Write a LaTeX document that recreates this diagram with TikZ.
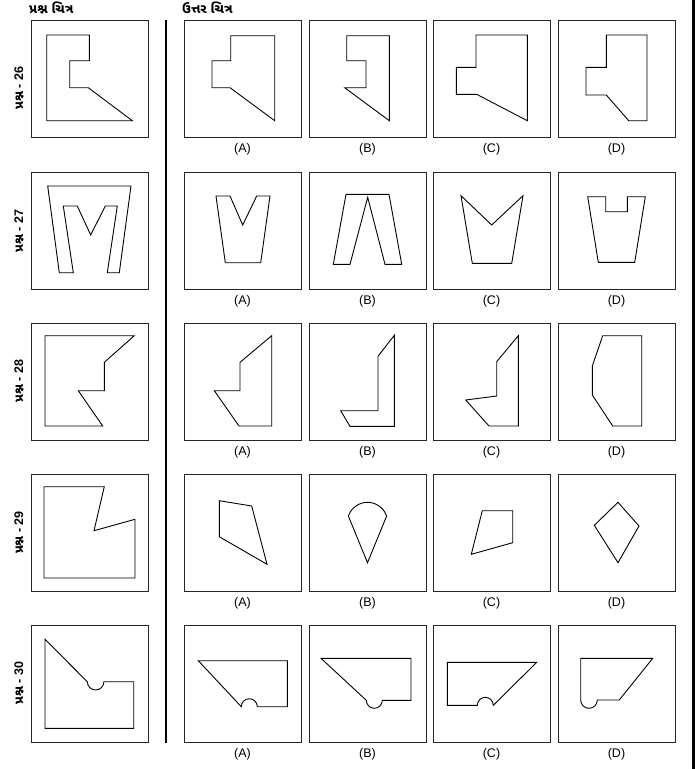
\documentclass[tikz,border=0pt]{standalone}
\usepackage{fontspec}
\setmainfont{Liberation Sans}
\newfontfamily\guj[Script=Gujarati]{Noto Sans Gujarati UI}
\begin{document}
\begin{tikzpicture}[x=1pt,y=-1pt,
  framebox/.style={draw=black!85,line width=1pt},
  fig/.style={draw=black,line width=0.9pt,line join=miter},
  optlabel/.style={font=\fontsize{12.5}{12.5}\selectfont,inner sep=0pt},
  rowlabel/.style={rotate=90,font=\bfseries\fontsize{12.5}{12.5}\selectfont,inner sep=0pt},
  headlabel/.style={anchor=west,font=\guj\bfseries\fontsize{13}{13}\selectfont,inner sep=0pt}]
\useasboundingbox (0,0) rectangle (696,769);
% headers
\node[headlabel] (h1) at (29,8) {પ્રશ્ન ચિત્ર};
\node[headlabel] (h2) at (182,8) {ઉત્તર ચિત્ર};
% divider and right border
\draw[line width=2pt] (166,20) -- (166,743);
\draw[line width=2.6pt] (693.5,0) -- (693.5,769);
% boxes and labels
\foreach \r/\yy in {1/20,2/172,3/323,4/474,5/625}{
  \draw[framebox] (31,\yy) rectangle ++(117,117);
  \foreach \c/\xx/\t in {A/184/(A),B/309/(B),C/433/(C),D/558/(D)}{
    \draw[framebox] (\xx,\yy) rectangle ++(117,117);
    \node[optlabel] (l\r\c) at (\xx+58.5,\yy+129) {\t};
  }
}
% row labels
\node[rowlabel] (q26) at (19,88) {{\guj પ્રશ્ન} - 26};
\node[rowlabel] (q27) at (19,231) {{\guj પ્રશ્ન} - 27};
\node[rowlabel] (q28) at (19,381) {{\guj પ્રશ્ન} - 28};
\node[rowlabel] (q29) at (19,532.5) {{\guj પ્રશ્ન} - 29};
\node[rowlabel] (q30) at (19,683) {{\guj પ્રશ્ન} - 30};
% ---------- Row 26 ----------
\begin{scope}[shift={(31,20)}]
\draw[fig] (15.7,15) -- (58.3,15) -- (58.3,40.7) -- (38.7,40.7) -- (38.7,67.7) -- (57.3,67.7) -- (101.3,100.7) -- (15.7,100.7) -- cycle;
\end{scope}
\begin{scope}[shift={(184,20)}]
\draw[fig] (46.7,15.7) -- (90.7,15.7) -- (90.7,100.7) -- (46,67.7) -- (28,67.7) -- (28,40.7) -- (46.7,40.7) -- cycle;
\end{scope}
\begin{scope}[shift={(309,20)}]
\draw[fig] (37.7,15.7) -- (80.3,15.7) -- (80.3,100.7) -- (35.7,67.7) -- (57,67.7) -- (57,40.7) -- (37.7,40.7) -- cycle;
\end{scope}
\begin{scope}[shift={(433,20)}]
\draw[fig] (43,15) -- (94.3,15) -- (94.3,100.7) -- (43.7,74.3) -- (23.3,74.3) -- (23.3,47.3) -- (43,47.3) -- cycle;
\end{scope}
\begin{scope}[shift={(558,20)}]
\draw[fig] (48.3,15) -- (89,15) -- (89,100.7) -- (70.7,100.7) -- (48.3,75) -- (28,75) -- (28,47.3) -- (48.3,47.3) -- cycle;
\end{scope}
% ---------- Row 27 ----------
\begin{scope}[shift={(31,172)}]
\draw[fig] (16.7,14) -- (100,14) -- (88.3,100.7) -- (76.3,100.7) -- (86.3,34) -- (74.3,34) -- (59.7,63) -- (46.3,34) -- (32.3,34) -- (42.3,100.7) -- (28.3,100.7) -- cycle;
\end{scope}
\begin{scope}[shift={(184,172)}]
\draw[fig] (32,24) -- (46,24) -- (58.7,53) -- (72.7,24) -- (86,24) -- (76.7,90.7) -- (41.3,90.7) -- cycle;
\end{scope}
\begin{scope}[shift={(309,172)}]
\draw[fig] (37,22.3) -- (80,22.3) -- (92.7,92.3) -- (76,92.3) -- (58.7,25.3) -- (41,92.3) -- (24.3,92.3) -- cycle;
\end{scope}
\begin{scope}[shift={(433,172)}]
\draw[fig] (28,23.7) -- (58.7,53) -- (90,23.7) -- (78.7,91.3) -- (39.3,91.3) -- cycle;
\end{scope}
\begin{scope}[shift={(558,172)}]
\draw[fig] (29.7,24.7) -- (47.7,24.7) -- (47.7,39.7) -- (69.3,39.7) -- (69.3,24.7) -- (87.3,24.7) -- (76.7,90.3) -- (40.3,90.3) -- cycle;
\end{scope}
% ---------- Row 28 ----------
\begin{scope}[shift={(31,323)}]
\draw[fig] (14,12.7) -- (103.3,12.7) -- (73.3,39.3) -- (73.3,67.7) -- (47.3,67.7) -- (71.7,103) -- (14,103) -- cycle;
\end{scope}
\begin{scope}[shift={(184,323)}]
\draw[fig] (87.7,12.7) -- (87.7,103) -- (55,103) -- (30.3,67.7) -- (56,67.7) -- (56,39.3) -- cycle;
\end{scope}
\begin{scope}[shift={(309,323)}]
\draw[fig] (85.3,12.3) -- (85.3,103.3) -- (41,103.3) -- (31.7,87.7) -- (69,87.7) -- (69,33.3) -- cycle;
\end{scope}
\begin{scope}[shift={(433,323)}]
\draw[fig] (85.3,12.7) -- (85.3,103) -- (56,103) -- (32.7,77) -- (63.7,73) -- (63.7,38.7) -- cycle;
\end{scope}
\begin{scope}[shift={(558,323)}]
\draw[fig] (44.7,12.7) -- (83.7,12.7) -- (83.7,103) -- (54.7,103) -- (34.3,72) -- (34.3,43) -- cycle;
\end{scope}
% ---------- Row 29 ----------
\begin{scope}[shift={(31,474)}]
\draw[fig] (13,12.7) -- (73.3,12.7) -- (63,56.7) -- (104,45.3) -- (104,104) -- (13,104) -- cycle;
\end{scope}
\begin{scope}[shift={(184,474)}]
\draw[fig] (35.3,26.7) -- (67.7,32) -- (83,90.3) -- (35.3,62.7) -- cycle;
\end{scope}
\begin{scope}[shift={(309,474)}]
\draw[fig] (58.5,88.7) -- (39.37,42.02) arc[start angle=-161.3,end angle=-18.7,radius=20.2] -- cycle;
\end{scope}
\begin{scope}[shift={(433,474)}]
\draw[fig] (49.3,36.7) -- (79.7,36.7) -- (79.7,68.7) -- (38.3,80.3) -- cycle;
\end{scope}
\begin{scope}[shift={(558,474)}]
\draw[fig] (60,28.3) -- (81,52) -- (60,88.7) -- (36.3,51.3) -- cycle;
\end{scope}
% ---------- Row 30 ----------
\begin{scope}[shift={(31,625)}]
\draw[fig] (14,14.3) -- (56.3,56.7) arc[start angle=180,end angle=0,radius=8.3] -- (102.7,56.7) -- (102.7,103.3) -- (14,103.3) -- cycle;
\end{scope}
\begin{scope}[shift={(184,625)}]
\draw[fig] (14.3,35.7) -- (103.3,35.7) -- (103.3,81.7) -- (73.3,81.7) arc[start angle=0,end angle=-180,radius=8] -- cycle;
\end{scope}
\begin{scope}[shift={(309,625)}]
\draw[fig] (12,33.3) -- (102,33.3) -- (102,75.3) -- (73.3,75.3) arc[start angle=0,end angle=180,radius=8] -- cycle;
\end{scope}
\begin{scope}[shift={(433,625)}]
\draw[fig] (14.3,37.3) -- (103.7,37.3) -- (60.3,80.3) arc[start angle=0,end angle=-180,radius=8] -- (14.3,80.3) -- cycle;
\end{scope}
\begin{scope}[shift={(558,625)}]
\draw[fig] (22.7,33.3) -- (94.7,33.3) -- (61.3,75) -- (39.3,75) arc[start angle=0,end angle=180,radius=8.3] -- cycle;
\end{scope}
\end{tikzpicture}
\end{document}
